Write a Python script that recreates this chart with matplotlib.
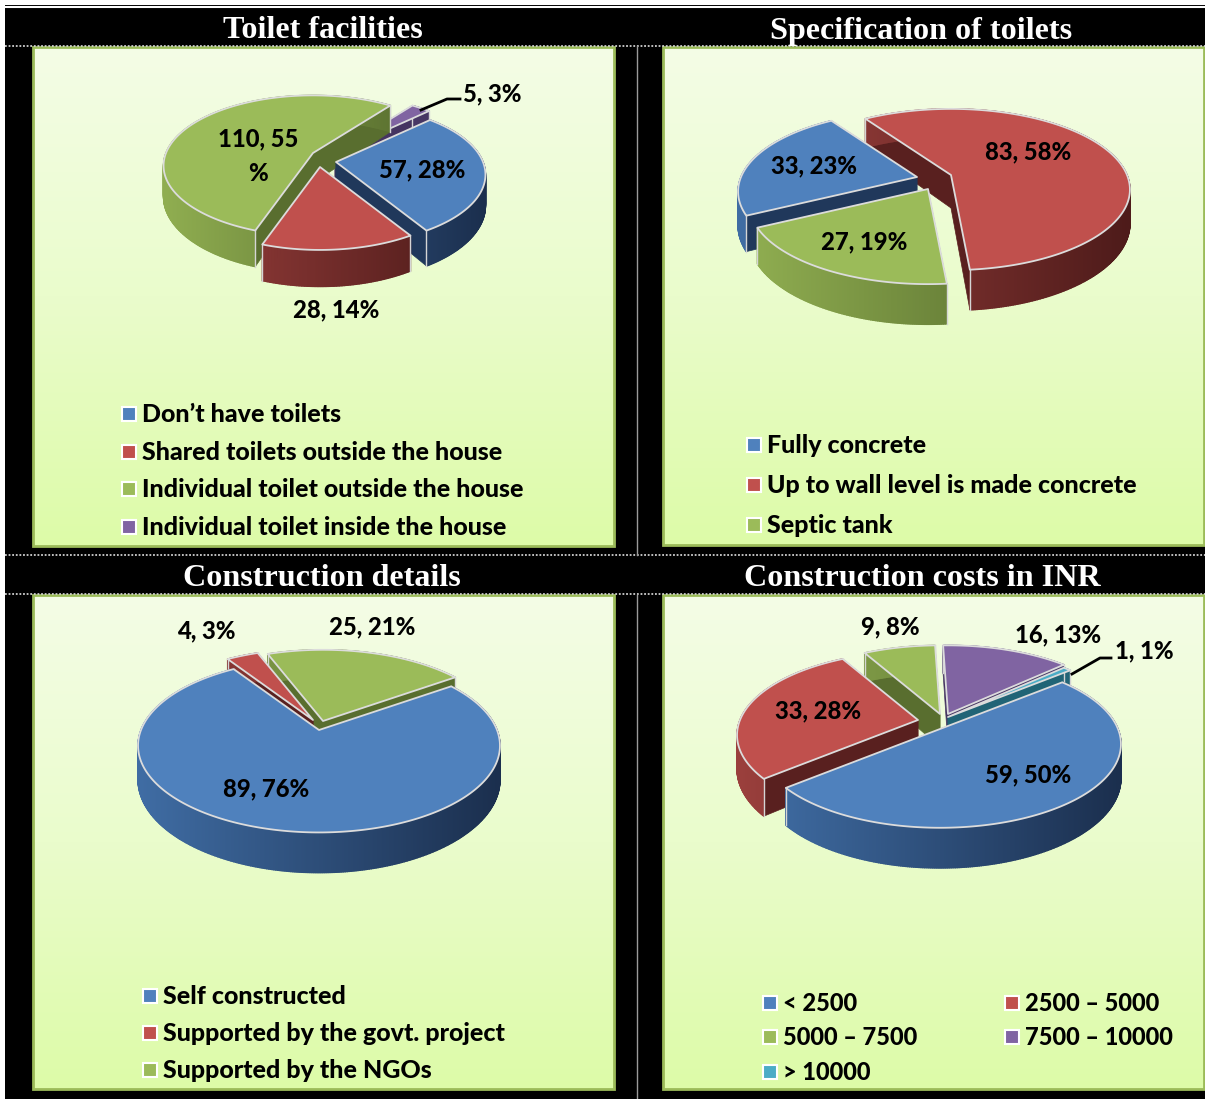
import numpy as np
import matplotlib
matplotlib.use('Agg')
import matplotlib.pyplot as plt
from matplotlib.patches import Polygon, Rectangle
from matplotlib.colors import to_rgb, LinearSegmentedColormap

W, H = 1205, 1099
TILT = 0.18

titles = ['Toilet facilities', 'Specification of toilets',
          'Construction details', 'Construction costs in INR']

vals1 = [57, 28, 110, 5]
vals2 = [83, 27, 33]
vals3 = [89, 4, 25]
vals4 = [59, 33, 9, 16, 1]

labs1 = ['57, 28%', '28, 14%', '110, 55\n%', '5, 3%']
labs2 = ['83, 58%', '27, 19%', '33, 23%']
labs3 = ['89, 76%', '4, 3%', '25, 21%']
labs4 = ['59, 50%', '33, 28%', '9, 8%', '16, 13%', '1, 1%']

leg1 = ['Don’t have toilets', 'Shared toilets outside the house',
        'Individual toilet outside the house', 'Individual toilet inside the house']
leg2 = ['Fully concrete', 'Up to wall level is made concrete', 'Septic tank']
leg3 = ['Self constructed', 'Supported by the govt. project', 'Supported by the NGOs']
leg4 = ['< 2500', '2500 – 5000', '5000 – 7500', '7500 – 10000', '> 10000']

# top colour, wall light, wall dark
BLUE = ('#4F81BD', '#3F6CA3', '#1B2F4E')
RED = ('#C0504D', '#9A3F3C', '#4E1B1A')
GREEN = ('#9BBB59', '#8FAD50', '#4F6329')
PURPLE = ('#8064A2', '#66508A', '#3F2F5A')
TEAL = ('#4BACC6', '#2F7F95', '#1F5F70')


def proj(tip, rx, ry, deg):
    t = np.radians(deg)
    s = 1 / (1 + TILT * np.sin(t))
    return tip[0] + rx * np.cos(t) * s, tip[1] - ry * np.sin(t) * s, s


def mix(a, b, t):
    a, b = np.array(to_rgb(a)), np.array(to_rgb(b))
    return tuple(a + (b - a) * t)


def pie3d(ax, vals, cols, tips, rx, ry, depth, start):
    total = sum(vals)
    spans = [v / total * 360 for v in vals]
    ang0 = start - np.concatenate([[0], np.cumsum(spans)[:-1]])
    # back slices first
    order = sorted(range(len(vals)), key=lambda i: -np.sin(np.radians(ang0[i] - spans[i] / 2)))
    for i in order:
        tip, col = tips[i], cols[i]
        z = 3 + order.index(i) * 0.1
        th = np.linspace(ang0[i], ang0[i] - spans[i], max(int(spans[i] * 2), 2) + 1)
        x, y, s = proj(tip, rx, ry, th)
        left, right = tip[0] - rx, tip[0] + rx
        # radial walls
        for j in (0, -1):
            quad = [tip, (x[j], y[j]), (x[j], y[j] + depth * s[j]), (tip[0], tip[1] + depth)]
            c = mix(col[1], col[2], 0.85)
            ax.add_patch(Polygon(quad, fc=c, ec=c, lw=0.5, zorder=z))
        # outer wall, shaded from left to right
        for k in range(len(th) - 1):
            quad = [(x[k], y[k]), (x[k + 1], y[k + 1]),
                    (x[k + 1], y[k + 1] + depth * s[k + 1]), (x[k], y[k] + depth * s[k])]
            t = np.clip((x[k] - left) / (right - left), 0, 1)
            c = mix(col[1], col[2], t)
            ax.add_patch(Polygon(quad, fc=c, ec=c, lw=1.0, zorder=z))
        # pale corner edges
        for j in (0, -1):
            ax.plot([x[j], x[j]], [y[j], y[j] + depth * s[j]], color='#d5d5d5', lw=1, zorder=z + 0.01)
        top = [tip] + list(zip(x, y))
        ax.add_patch(Polygon(top, fc=col[0], ec='#dcdcdc', lw=1.3, joinstyle='round', zorder=z + 0.02))


def panel(ax, x0, y0, x1, y1):
    cm = LinearSegmentedColormap.from_list('bg', ['#F4FDE6', '#EAFCCC', '#DDFBA8'])
    ax.imshow(np.linspace(0, 1, 256)[:, None], extent=(x0, x1, y1, y0), cmap=cm,
              aspect='auto', zorder=1)
    ax.add_patch(Rectangle((x0, y0), x1 - x0, y1 - y0, fc='none', ec='#9BBB59', lw=2, zorder=2))


def legend(ax, labels, cols, xs, ys, size=18):
    for lb, c, xx, yy in zip(labels, cols, xs, ys):
        ax.add_patch(Rectangle((xx, yy - 7), 14, 14, fc=c, ec='white', lw=1.5, zorder=3))
        ax.text(xx + 20, yy + 0.5, lb, fontsize=size, fontweight='black', family='Lato',
                va='center', ha='left', color='black', zorder=6)


fig = plt.figure(figsize=(W / 100, H / 100), dpi=100, facecolor='white')
ax = fig.add_axes([0, 0, 1, 1])
ax.set_axis_off()

ax.add_patch(Rectangle((5, 5), W - 5, H - 5, fc='black', ec='none', zorder=0))
ax.plot([5, W], [7, 7], color='white', lw=1.5, zorder=1)

panel(ax, 33, 47, 614, 546)
panel(ax, 663, 47, 1204, 545)
panel(ax, 33, 595, 614, 1089)
panel(ax, 663, 595, 1204, 1089)

for yy in (46, 555, 594):
    ax.plot([5, W], [yy, yy], color='#cfcfcf', lw=1.3, ls=(0, (1, 1)), zorder=2.5)
ax.plot([637, 637], [46, 555], color='#9a9a9a', lw=1, zorder=2.5)
ax.plot([637, 637], [595, H], color='#9a9a9a', lw=1, zorder=2.5)

for t, xx, yy in zip(titles, (323, 921, 322, 922), (31, 31, 578, 578)):
    ax.text(xx, yy, t, color='white', fontsize=23.1, fontweight='bold',
            family='Liberation Serif', ha='center', va='center', zorder=6)

pie3d(ax, vals1, [BLUE, RED, GREEN, PURPLE],
      [(336, 162), (320, 167), (313, 153), (335, 153)], 147, 68, 30, 44)
pie3d(ax, vals2, [RED, GREEN, BLUE],
      [(951, 175), (928, 189), (917, 177)], 176, 78, 33, 124)
pie3d(ax, vals3, [BLUE, RED, GREEN],
      [(319, 730), (313, 720), (323, 721)], 178, 84, 33, 35)
pie3d(ax, vals4, [BLUE, RED, GREEN, PURPLE, TEAL],
      [(940, 729), (918, 720), (940, 714), (948, 714), (948, 717)], 178, 81, 33, 40)

lab_xy1 = [(422, 169), (336, 309), (258, 156), (492, 93)]
lab_xy2 = [(1028, 151), (864, 241), (814, 165)]
lab_xy3 = [(266, 788), (206, 630), (372, 626)]
lab_xy4 = [(1028, 774), (818, 710), (890, 626), (1058, 634), (1144, 650)]
for labs, pts in ((labs1, lab_xy1), (labs2, lab_xy2), (labs3, lab_xy3), (labs4, lab_xy4)):
    for lb, (xx, yy) in zip(labs, pts):
        ax.text(xx, yy + 0.5, lb, fontsize=17.2, fontweight='black', family='Lato', ha='center',
                va='center', color='black', zorder=6, linespacing=1.6)

# leader lines
ax.plot([421, 447, 460], [110, 99, 99], color='black', lw=2, zorder=6)
ax.plot([1072, 1100, 1111], [674, 658, 658], color='black', lw=2, zorder=6)

c1 = [BLUE[0], RED[0], GREEN[0], PURPLE[0]]
legend(ax, leg1, c1, [122] * 4, [414, 452, 489, 527])
legend(ax, leg2, [BLUE[0], RED[0], GREEN[0]], [747] * 3, [445, 485, 525])
legend(ax, leg3, [BLUE[0], RED[0], GREEN[0]], [143] * 3, [996, 1033, 1070])
legend(ax, leg4, [BLUE[0], RED[0], GREEN[0], PURPLE[0], TEAL[0]],
       [763, 1005, 763, 1005, 763], [1003, 1003, 1037, 1037, 1072], size=17)

ax.set_xlim(0, W)
ax.set_ylim(H, 0)
fig.savefig('out.png', dpi=100, facecolor='white')
